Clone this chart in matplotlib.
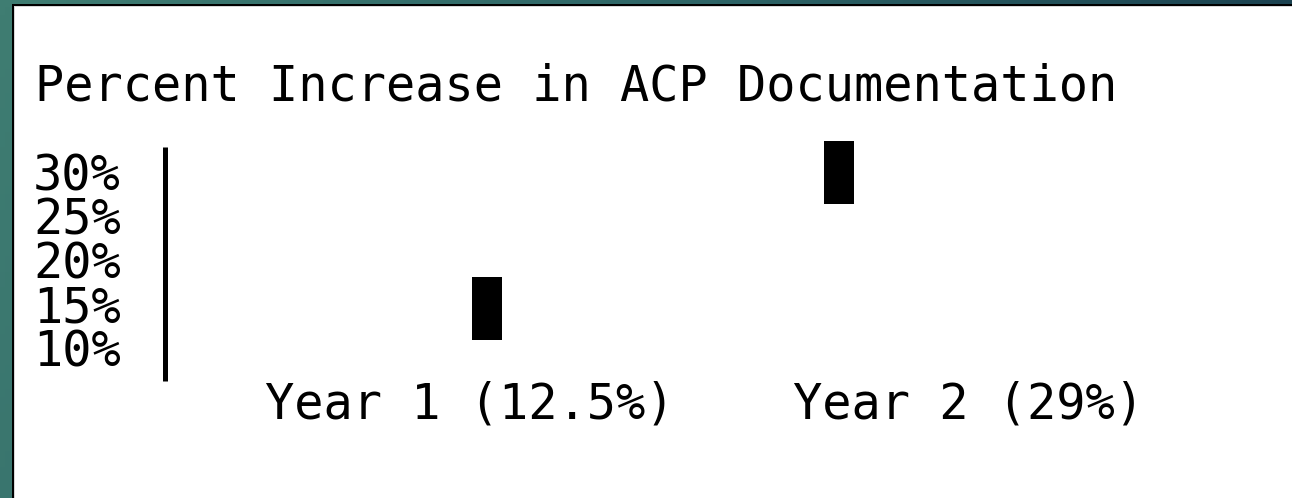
import numpy as np
import matplotlib
matplotlib.use("Agg")
import matplotlib.pyplot as plt
from matplotlib.patches import Rectangle
from matplotlib.colors import LinearSegmentedColormap

# ---- data ----
title = "Percent Increase in ACP Documentation"
categories = ["Year 1 (12.5%)", "Year 2 (29%)"]
bar_low = [10.8, 26.25]     # floating marker bottoms (%)
bar_high = [18.0, 33.4]     # floating marker tops (%)
y_ticks = [10, 15, 20, 25, 30]
y_tick_labels = ["10%", "15%", "20%", "25%", "30%"]

# ---- layout ----
W, H = 1292, 498
DPI = 100
FONT = "DejaVu Sans Mono"
FS = 35
bar_offsets = [0.0345, -0.2595]   # marker offset from label centre
bar_width = 0.06

fig = plt.figure(figsize=(W / DPI, H / DPI), dpi=DPI)

# background frame with gradient
bg = fig.add_axes([0, 0, 1, 1])
bg.set_axis_off()
cmap = LinearSegmentedColormap.from_list("frame", ["#3f7d72", "#2d6466", "#173a4b"])
gx = np.linspace(0, 1, 256)
gy = np.linspace(0, 1, 64)
grad = np.clip(gx[None, :] * 0.9 + (1 - gy[:, None]) * 0.15, 0, 1)
bg.imshow(grad, cmap=cmap, extent=[0, 1, 0, 1], aspect="auto", origin="lower")
bg.set_xlim(0, 1)
bg.set_ylim(0, 1)
px = 1.0 / W
py = 1.0 / H
bg.add_patch(Rectangle((12 * px, 0), 1, 1 - 4 * py, facecolor="black", edgecolor="none"))
bg.add_patch(Rectangle((14 * px, 0), 1, 1 - 6 * py, facecolor="#d8d8d8", edgecolor="none"))
bg.add_patch(Rectangle((15 * px, 0), 1, 1 - 7 * py, facecolor="white", edgecolor="none"))

# main axes (pixel-matched)
left_px, right_px = 164.5, 1292
bottom_px, top_px = 383, 135.8
ax = fig.add_axes([left_px / W, (H - bottom_px) / H,
                   (right_px - left_px) / W, (bottom_px - top_px) / H])
ax.patch.set_alpha(0)
ax.set_ylim(5.91, 34.0)
ax.set_xlim(-0.611, 1.648)

x = np.arange(len(categories))
heights = [h - l for l, h in zip(bar_low, bar_high)]
ax.bar(x + np.array(bar_offsets), heights, bottom=bar_low, width=bar_width,
       color="black", edgecolor="none")

for s in ["top", "right", "bottom"]:
    ax.spines[s].set_visible(False)
ax.spines["left"].set_linewidth(3.6)
ax.spines["left"].set_capstyle("butt")
ax.spines["left"].set_bounds(6.1, 32.73)

ax.set_yticks(y_ticks)
ax.set_yticklabels(y_tick_labels, fontfamily=FONT, fontsize=FS)
ax.set_xticks(x)
ax.set_xticklabels(categories, fontfamily=FONT, fontsize=FS)
ax.tick_params(axis="y", length=0, pad=31.4)
ax.tick_params(axis="x", length=0, pad=-2)

fig.text(35 / W, (H - 100) / H, title, fontfamily=FONT, fontsize=FS,
         ha="left", va="baseline", color="black")

fig.savefig("out.png", dpi=DPI)
